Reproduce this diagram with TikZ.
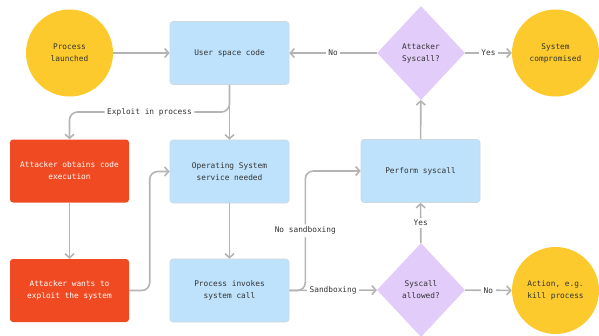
\documentclass[tikz,border=0pt]{standalone}
\usepackage{fontspec}
\setmonofont{DejaVu Sans Mono}
\usetikzlibrary{shapes.geometric,arrows.meta}

\definecolor{sunny}{HTML}{FCCA2C}
\definecolor{skyblue}{HTML}{BEE2FB}
\definecolor{skyedge}{HTML}{CFD8DF}
\definecolor{alarm}{HTML}{F04A23}
\definecolor{lilac}{HTML}{E2CCF9}
\definecolor{wire}{HTML}{B4B4B4}
\definecolor{ink}{HTML}{333333}

\tikzset{
    txt/.style={font=\ttfamily\fontsize{7.8}{12}\selectfont, align=center, text=ink},
    terminal/.style={txt, circle, fill=sunny, minimum size=87pt, inner sep=0pt},
    stepbox/.style={txt, rectangle, rounded corners=3pt, fill=skyblue, draw=skyedge, line width=0.6pt, minimum width=119pt, minimum height=63pt},
    hackbox/.style={txt, rectangle, rounded corners=3pt, fill=alarm, text=white, minimum width=119pt, minimum height=63pt},
    choice/.style={txt, diamond, aspect=1, fill=lilac, minimum width=88pt, minimum height=94pt, inner sep=0pt},
    flow/.style={draw=wire, line width=1.6pt, -{Straight Barb[length=4pt,width=9pt]}},
    tag/.style={txt, fill=white, inner sep=2.5pt},
}

\begin{document}
\begin{tikzpicture}[x=1pt,y=-1pt]
    \useasboundingbox (0,0) rectangle (599,335);

    % top row
    \node[terminal] (launch) at (69.5, 53) {Process\\launched};
    \node[stepbox] (userspace) at (229.5, 53) {User space code};
    \node[choice] (attsys) at (421, 53) {Attacker\\Syscall?};
    \node[terminal] (pwned) at (555.5, 53) {System\\compromised};

    % middle row
    \node[hackbox] (obtain) at (69.5, 171) {Attacker obtains code\\execution};
    \node[stepbox] (ossvc) at (229.5, 171.5) {Operating System\\service needed};
    \node[stepbox] (perform) at (420.5, 171) {Perform syscall};

    % bottom row
    \node[hackbox] (wants) at (69.5, 290.5) {Attacker wants to\\exploit the system};
    \node[stepbox] (invoke) at (229.5, 290.5) {Process invokes\\system call};
    \node[choice] (allowed) at (421, 290) {Syscall\\allowed?};
    \node[terminal] (action) at (555.5, 290.5) {Action, e.g.\\kill process};

    \draw[flow] (launch) -- (userspace);
    \draw[flow] (attsys) -- node[tag] {No} (userspace);
    \draw[flow] (attsys) -- node[tag] {Yes} (pwned);
    \draw[flow] (userspace) -- (ossvc);
    \draw[flow, rounded corners=8pt] (userspace.south) -- (userspace.south |- 0,112)
        -- node[tag] {Exploit in process} (obtain.north |- 0,112) -- (obtain.north);
    \draw[flow] (obtain) -- (wants);
    \draw[flow, rounded corners=8pt] (wants.east) -- ++(20.5,0) |- (ossvc.west);
    \draw[flow] (ossvc) -- (invoke);
    \draw[flow] (invoke) -- node[tag] {Sandboxing} (allowed);
    \draw[flow, rounded corners=8pt] (invoke.east) -- ++(16,0)
        |- node[tag, pos=0.25] {No sandboxing} (perform.west);
    \draw[flow] (allowed) -- node[tag] {Yes} (perform);
    \draw[flow] (allowed) -- node[tag] {No} (action);
    \draw[flow] (perform) -- (attsys);
\end{tikzpicture}
\end{document}
